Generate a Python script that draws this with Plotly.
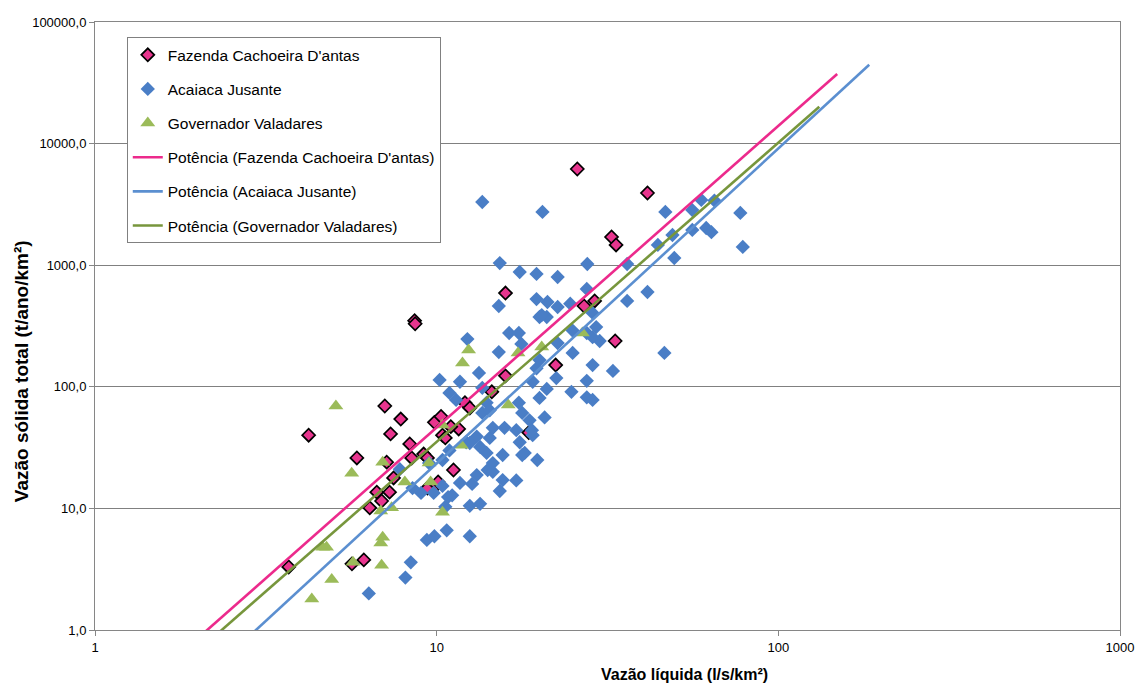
import numpy as np
import plotly.graph_objects as go

# ---- data ----
faz_x = [3.69, 4.22, 5.84, 7.05, 7.85, 7.33, 8.34, 9.85, 10.3, 8.62, 8.65, 7.14, 8.45, 9.16, 9.4,
         7.48, 6.68, 7.28, 6.9, 6.37, 9.4, 10.0, 6.12, 5.65, 25.8, 15.9, 27.0, 29.0, 22.3, 15.9,
         14.5, 12.1, 12.5, 11.6, 11.0, 10.4, 10.6, 18.6, 11.2, 10.1, 41.4, 32.5, 33.5, 33.3]
faz_y = [3.3, 40, 26, 69.5, 54.3, 41, 33.9, 51, 57, 350, 330, 24, 26, 28, 26,
         17.8, 13.6, 13.6, 11.5, 10.1, 14.7, 15.6, 3.77, 3.5, 6180, 590, 462, 508, 151, 123,
         91, 74, 67, 45, 47, 40, 38, 42, 20.7, 16.5, 3925, 1706, 1467, 238]

aca_x = [7.8, 8.5, 9.0, 9.8, 9.36, 9.85, 8.4, 8.1, 6.33, 10.7, 12.5, 12.5, 13.4, 10.6, 10.4,
         11.7, 12.7, 15.3, 15.6, 13.1, 14.1, 14.6, 10.4, 9.5, 14.6, 10.9, 12.2, 14.0, 15.6, 18.1,
         13.4, 13.1, 14.3, 17.5, 19.1, 14.6, 15.8, 17.1, 18.7, 20.7, 13.6, 14.0, 17.4, 20.0, 10.9,
         11.4, 21.0, 24.8, 27.5, 28.6, 10.2, 11.7, 13.3, 19.1, 22.4, 27.5, 20.0, 15.2, 17.7, 22.6,
         25.0, 28.6, 32.8, 30.0, 46.4, 12.3, 16.3, 17.4, 20.0, 21.0, 20.3, 28.6, 27.5, 29.3, 28.6,
         36.1, 41.4, 15.2, 19.6, 21.1, 22.6, 24.6, 27.5, 15.3, 27.6, 36.1, 17.5, 19.6, 22.6, 49.6,
         44.4, 78.7, 49.0, 56.0, 61.5, 63.7, 46.7, 56.0, 59.5, 65.0, 77.4, 13.6, 20.4,
         13.6, 14.3, 12.5, 10.8, 19.6, 17.8, 19.0, 17.8, 19.7, 17.1, 25.0, 11.1]
aca_y = [21, 14.7, 13.4, 13.4, 5.5, 5.9, 3.6, 2.7, 2.0, 6.6, 5.9, 10.5, 10.9, 10.3, 15.3,
         16.2, 15.9, 13.9, 17.1, 18.8, 20.7, 20, 25, 23.6, 23.6, 30, 35, 28.6, 27.5, 28.6,
         32, 39, 38, 35, 40, 46, 46, 44, 53, 56, 61, 74, 74, 81, 89,
         78, 96, 91, 82, 78, 114, 110, 130, 110, 118, 112, 166, 193, 225, 229,
         190, 151, 135, 238, 190, 247, 277, 277, 375, 375, 389, 256, 277, 310, 405,
         508, 602, 462, 527, 498, 453, 483, 637, 1042, 1023, 1023, 879, 847, 800, 1146,
         1467, 1413, 1771, 1950, 2023, 1870, 2740, 2840, 3440, 3400, 2690, 3310, 2740,
         98, 64, 34.5, 12.4, 142, 61, 44, 27.5, 25, 17, 290, 12.8]

gov_x = [5.07, 6.95, 5.64, 8.07, 6.86, 7.38, 9.6, 6.95, 6.86, 4.64, 4.76, 5.69, 6.9, 4.93, 4.31,
         12.4, 11.9, 17.3, 20.3, 26.7, 16.2, 11.8, 10.4, 10.4, 9.5]
gov_y = [69.5, 24, 19.5, 16.5, 9.5, 10.1, 16.5, 5.8, 5.2, 4.8, 4.8, 3.6, 3.4, 2.6, 1.8,
         201, 157, 190, 212, 277, 71, 33, 48.5, 9.3, 23.6]

# power-law trend parameters  y = a * x^b  and drawn x-range
trend_names = ["Potência (Fazenda Cachoeira D'antas)", "Potência (Acaiaca Jusante)",
               "Potência (Governador Valadares)"]
trend_a = [0.1533, 0.0602, 0.1223]
trend_b = [2.48, 2.59, 2.46]
trend_xmin = [1.5, 2.0, 1.8]
trend_xmax = [148.7, 184.5, 131.8]
trend_colors = ["#EC2A8C", "#5B8FD0", "#77963C"]

x_ticks = [1, 10, 100, 1000]
x_ticktext = ["1", "10", "100", "1000"]
y_ticks = [1, 10, 100, 1000, 10000, 100000]
y_ticktext = ["1,0", "10,0", "100,0", "1000,0", "10000,0", "100000,0"]

FONT = "Liberation Sans, Arial, sans-serif"

fig = go.Figure()
fig.add_trace(go.Scatter(x=faz_x, y=faz_y, mode="markers", name="Fazenda Cachoeira D'antas",
                         legendgroup="g1",
                         marker=dict(symbol="diamond", size=10, color="#E8358E",
                                     line=dict(color="black", width=1.7))))
fig.add_trace(go.Scatter(x=aca_x, y=aca_y, mode="markers", name="Acaiaca Jusante",
                         legendgroup="g2",
                         marker=dict(symbol="diamond", size=11, color="#4A7EC6",
                                     line=dict(width=0))))
fig.add_trace(go.Scatter(x=gov_x, y=gov_y, mode="markers", name="Governador Valadares",
                         legendgroup="g3",
                         marker=dict(symbol="triangle-up", size=13, color="#9BBB59",
                                     line=dict(width=0))))
for i in range(3):
    tx = np.geomspace(trend_xmin[i], trend_xmax[i], 50)
    ty = trend_a[i] * tx ** trend_b[i]
    fig.add_trace(go.Scatter(x=tx, y=ty, mode="lines", name=trend_names[i],
                             legendgroup="t%d" % i,
                             line=dict(color=trend_colors[i], width=2.6)))

fig.update_layout(
    width=1146, height=687,
    margin=dict(l=95, r=24, t=22, b=57),
    paper_bgcolor="white", plot_bgcolor="white",
    font=dict(family=FONT, size=13, color="black"),
    showlegend=True,
    legend=dict(x=0.031, y=0.975, xanchor="left", yanchor="top",
                bgcolor="white", bordercolor="#808080", borderwidth=1,
                font=dict(family=FONT, size=15.5, color="black"),
                traceorder="grouped", tracegroupgap=11),
    xaxis=dict(type="log", range=[0, 3], tickvals=x_ticks, ticktext=x_ticktext,
               showgrid=False, zeroline=False, showline=True, linecolor="#868686",
               linewidth=1, mirror=True, ticks="outside", ticklen=5, tickcolor="#868686",
               tickfont=dict(family=FONT, size=13)),
    yaxis=dict(type="log", range=[0, 5], tickvals=y_ticks, ticktext=y_ticktext,
               showgrid=True, gridcolor="#808080", gridwidth=1, zeroline=False,
               showline=True, linecolor="#868686", linewidth=1, mirror=True,
               ticks="outside", ticklen=5, tickcolor="#868686",
               tickfont=dict(family=FONT, size=13)),
    annotations=[
        dict(text="<b>Vazão líquida (l/s/km²)</b>", xref="paper", yref="paper",
             x=0.575, y=-0.074, xanchor="center", yanchor="middle", showarrow=False,
             font=dict(family=FONT, size=16)),
        dict(text="<b>Vazão sólida total (t/ano/km²)</b>", xref="paper", yref="paper",
             x=-0.071, y=0.426, xanchor="center", yanchor="middle", showarrow=False,
             textangle=-90, font=dict(family=FONT, size=19)),
    ],
)

fig.write_html("out.html")
